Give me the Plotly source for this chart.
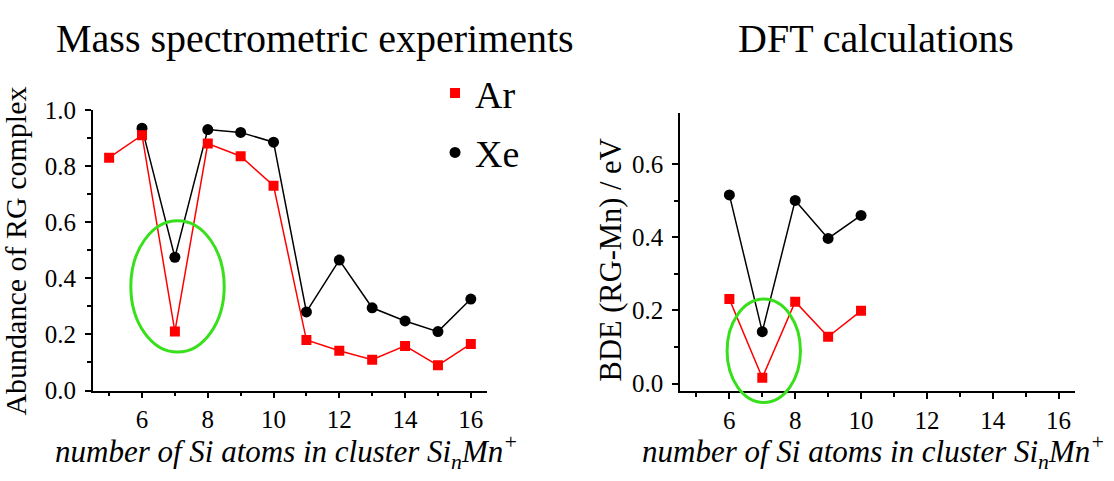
import plotly.graph_objects as go

# ---- data ----
n_exp_ar = [5, 6, 7, 8, 9, 10, 11, 12, 13, 14, 15, 16]
ab_ar = [0.83, 0.91, 0.21, 0.88, 0.835, 0.73, 0.18, 0.142, 0.11, 0.159, 0.09, 0.166]
n_exp_xe = [6, 7, 8, 9, 10, 11, 12, 13, 14, 15, 16]
ab_xe = [0.935, 0.475, 0.93, 0.92, 0.885, 0.28, 0.465, 0.295, 0.248, 0.21, 0.326]

n_dft = [6, 7, 8, 9, 10]
bde_ar = [0.231, 0.016, 0.224, 0.128, 0.199]
bde_xe = [0.516, 0.142, 0.501, 0.397, 0.46]

# highlight ellipses (data units)
ell_left = dict(x0=5.66, x1=8.5, y0=0.137, y1=0.605)
ell_right = dict(x0=5.93, x1=8.16, y0=-0.052, y1=0.231)

RED = "#ff0000"
BLACK = "#000000"
GREEN = "#38e01c"
FONT = "Liberation Serif"

x_range = [4.5, 16.5]
y1_range = [0.0, 1.0]
y2_range = [-0.021, 0.74]

X1_DOM = [0.0832, 0.4374]
Y1_DOM = [0.1684, 0.7865]
X2_DOM = [0.6104, 0.9650]
Y2_DOM = [0.1669, 0.7796]

fig = go.Figure()

fig.add_trace(go.Scatter(x=n_exp_xe, y=ab_xe, mode="lines+markers", xaxis="x", yaxis="y",
                         line=dict(color=BLACK, width=1.5),
                         marker=dict(symbol="circle", size=11, color=BLACK), showlegend=False))
fig.add_trace(go.Scatter(x=n_exp_ar, y=ab_ar, mode="lines+markers", xaxis="x", yaxis="y",
                         line=dict(color=RED, width=1.5),
                         marker=dict(symbol="square", size=10, color=RED), showlegend=False))
fig.add_trace(go.Scatter(x=n_dft, y=bde_xe, mode="lines+markers", xaxis="x2", yaxis="y2",
                         line=dict(color=BLACK, width=1.5),
                         marker=dict(symbol="circle", size=11, color=BLACK), showlegend=False))
fig.add_trace(go.Scatter(x=n_dft, y=bde_ar, mode="lines+markers", xaxis="x2", yaxis="y2",
                         line=dict(color=RED, width=1.5),
                         marker=dict(symbol="square", size=10, color=RED), showlegend=False))

# legend-only entries (markers only)
fig.add_trace(go.Scatter(x=[None], y=[None], mode="markers", name="Ar", legendgroup="a",
                         marker=dict(symbol="square", size=10, color=RED)))
fig.add_trace(go.Scatter(x=[None], y=[None], mode="markers", name="Xe", legendgroup="b",
                         marker=dict(symbol="circle", size=11, color=BLACK)))

MINOR_X = dict(dtick=1, tick0=0, ticks="outside", ticklen=4, tickwidth=1.5, tickcolor=BLACK)
TF = 25


def axis(**kw):
    base = dict(showline=True, linecolor=BLACK, linewidth=1.5, ticks="outside",
                ticklen=6, tickwidth=1.5, tickcolor=BLACK, showgrid=False, zeroline=False,
                tickfont=dict(family=FONT, size=TF, color=BLACK), mirror=False)
    base.update(kw)
    return base


fig.update_layout(
    width=1114, height=481, margin=dict(l=0, r=0, t=0, b=0),
    plot_bgcolor="white", paper_bgcolor="white",
    font=dict(family=FONT, size=TF, color=BLACK),
    xaxis=axis(domain=X1_DOM, range=x_range, anchor="y", dtick=2, tick0=0, minor=MINOR_X),
    yaxis=axis(domain=Y1_DOM, range=y1_range, anchor="x", dtick=0.2, tick0=0,
               tickformat=".1f", ticklabelstandoff=4,
               minor=dict(dtick=0.1, tick0=0, ticks="outside", ticklen=4, tickwidth=1.5, tickcolor=BLACK)),
    xaxis2=axis(domain=X2_DOM, range=x_range, anchor="y2", dtick=2, tick0=0, minor=MINOR_X),
    yaxis2=axis(domain=Y2_DOM, range=y2_range, anchor="x2",
                tickvals=[0.0, 0.2, 0.4, 0.6], tickformat=".1f", ticklabelstandoff=4,
                minor=dict(tickvals=[0.1, 0.3, 0.5], ticks="outside", ticklen=4, tickwidth=1.5,
                           tickcolor=BLACK)),
    legend=dict(x=0.3905, y=0.8924, xanchor="left", yanchor="top",
                font=dict(family=FONT, size=38, color=BLACK),
                bgcolor="rgba(0,0,0,0)", traceorder="grouped", tracegroupgap=7,
                itemwidth=30),
    showlegend=True,
)

# ellipses
fig.add_shape(type="circle", xref="x", yref="y", line=dict(color=GREEN, width=3), **ell_left)


def to_paper(v, rng, dom):
    """map a data value through the axis range and domain to a paper fraction"""
    return dom[0] + (v - rng[0]) / (rng[1] - rng[0]) * (dom[1] - dom[0])


# right ellipse crosses below the x axis: place it in paper units so it is not clipped
fig.add_shape(type="circle", xref="paper", yref="paper", line=dict(color=GREEN, width=3),
              x0=to_paper(ell_right["x0"], x_range, X2_DOM), x1=to_paper(ell_right["x1"], x_range, X2_DOM),
              y0=to_paper(ell_right["y0"], y2_range, Y2_DOM), y1=to_paper(ell_right["y1"], y2_range, Y2_DOM))

# titles and axis titles
XT = "<i>number of Si atoms in cluster Si<sub>n</sub>Mn<sup>+</sup></i>"
ann = [
    dict(text="Mass spectrometric experiments", x=0.2832, y=0.944, size=40, angle=0),
    dict(text="DFT calculations", x=0.7864, y=0.944, size=40, angle=0),
    dict(text=XT, x=0.2572, y=0.033, size=31, angle=0),
    dict(text=XT, x=0.7837, y=0.033, size=31, angle=0),
    dict(text="Abundance of RG complex", x=0.0141, y=0.476, size=30, angle=-90),
    dict(text="BDE (RG-Mn) / eV", x=0.5485, y=0.455, size=30.5, angle=-90),
]
for a in ann:
    fig.add_annotation(text=a["text"], x=a["x"], y=a["y"], xref="paper", yref="paper",
                       xanchor="center", yanchor="middle", showarrow=False, textangle=a["angle"],
                       font=dict(family=FONT, size=a["size"], color=BLACK))

fig.write_html("out.html")
